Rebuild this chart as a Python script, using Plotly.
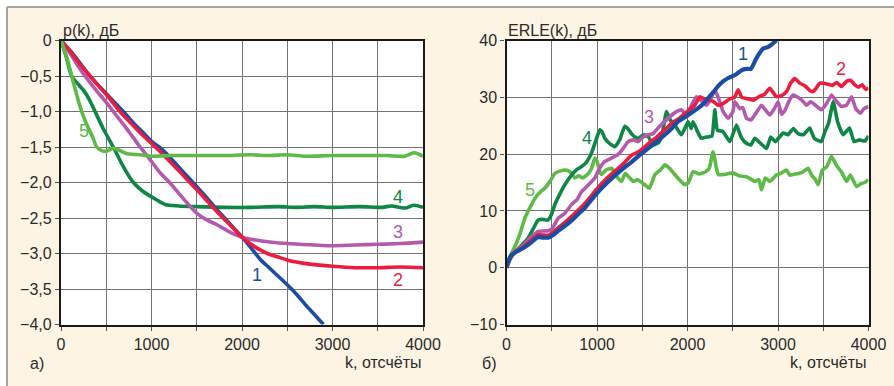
import plotly.graph_objects as go

# ---------------- Data (left panel: p(k), dB) ----------------
k1_a = [0, 100, 200, 320, 500, 688, 800, 900, 1000, 1094, 1200, 1300, 1400, 1500, 1600, 1700, 1800, 1900, 2000,
        2100, 2200, 2300, 2400, 2500, 2600, 2700, 2800, 2900]
p1 = [0, -0.14, -0.3, -0.5, -0.75, -1.0, -1.16, -1.29, -1.42, -1.51, -1.64, -1.78, -1.92, -2.06, -2.2, -2.35, -2.49,
      -2.63, -2.77, -2.92, -3.08, -3.2, -3.32, -3.44, -3.57, -3.72, -3.86, -4.0]

k2_a = [0, 100, 200, 320, 400, 500, 652, 800, 900, 1000, 1100, 1200, 1300, 1400, 1500, 1600, 1700, 1800, 1900, 2000,
        2100, 2200, 2300, 2400, 2500, 2600, 2750, 3000, 3250, 3500, 3750, 4000]
p2 = [0, -0.15, -0.32, -0.5, -0.62, -0.76, -1.0, -1.2, -1.33, -1.45, -1.57, -1.7, -1.83, -1.97, -2.1, -2.24, -2.38,
      -2.51, -2.64, -2.77, -2.87, -2.95, -3.01, -3.05, -3.09, -3.12, -3.15, -3.18, -3.2, -3.2, -3.19, -3.2]

k3_a = [0, 100, 200, 265, 400, 500, 578, 700, 800, 873, 950, 1100, 1200, 1300, 1400, 1500, 1600, 1700, 1800, 1900,
        2000, 2200, 2500, 2800, 3000, 3250, 3500, 3750, 4000]
p3 = [0, -0.18, -0.38, -0.5, -0.72, -0.87, -1.0, -1.2, -1.37, -1.5, -1.62, -1.87, -2.0, -2.15, -2.3, -2.43, -2.52,
      -2.58, -2.65, -2.72, -2.77, -2.82, -2.86, -2.88, -2.89, -2.88, -2.87, -2.86, -2.84]

k4_a = [0, 60, 118, 200, 260, 320, 376, 470, 578, 690, 800, 900, 1050, 1150, 1300, 1500, 1800, 2100, 2400, 2600,
        2800, 3000, 3300, 3550, 3650, 3800, 3900, 4000]
p4 = [0, -0.24, -0.5, -0.63, -0.72, -0.85, -1.0, -1.25, -1.5, -1.78, -2.0, -2.12, -2.24, -2.31, -2.33, -2.34, -2.35,
      -2.35, -2.34, -2.35, -2.34, -2.35, -2.34, -2.35, -2.33, -2.36, -2.32, -2.35]

k5_a = [0, 60, 118, 170, 228, 290, 350, 394, 450, 500, 577, 650, 720, 880, 1000, 1200, 1500, 1800, 2100, 2300, 2500,
        2700, 3000, 3300, 3600, 3800, 3900, 4000]
p5 = [0, -0.22, -0.5, -0.75, -1.0, -1.2, -1.36, -1.5, -1.55, -1.56, -1.52, -1.55, -1.59, -1.61, -1.63, -1.62, -1.62,
      -1.62, -1.61, -1.62, -1.61, -1.63, -1.62, -1.62, -1.62, -1.63, -1.58, -1.63]

# ---------------- Data (right panel: ERLE(k), dB) ----------------
k1_b = [0, 30, 60, 120, 190, 260, 350, 400, 460, 520, 570, 640, 718, 790, 865, 940, 1010, 1100, 1197, 1290, 1381,
        1470, 1565, 1660, 1750, 1830, 1900, 2000, 2090, 2150, 2200, 2250, 2290, 2340, 2393, 2450, 2523, 2600, 2650,
        2700, 2762, 2836, 2880, 2930, 2983]
e1 = [0, 1.5, 2.3, 2.9, 3.5, 4.3, 5.4, 5.3, 5.3, 5.8, 6.5, 7.3, 8.3, 9.4, 10.5, 12.0, 13.3, 14.8, 16.2, 17.5, 18.6,
      19.8, 21.0, 22.2, 23.4, 24.6, 25.8, 26.8, 27.8, 28.5, 29.3, 30.3, 31.0, 32.0, 32.8, 33.4, 33.9, 34.8, 35.0,
      35.0, 36.9, 38.6, 38.8, 39.3, 40.0]

k2_b = [0, 60, 190, 350, 460, 570, 718, 865, 1010, 1100, 1197, 1290, 1381, 1470, 1565, 1660, 1750, 1830, 1907, 2018,
        2080, 2136, 2200, 2283, 2340, 2393, 2467, 2520, 2560, 2600, 2650, 2726, 2800, 2850, 2910, 2983, 3040, 3094,
        3140, 3186, 3240, 3300, 3350, 3388, 3430, 3462, 3530, 3600, 3650, 3700, 3757, 3800, 3850, 3890, 3930, 3970,
        4000]
e2 = [0, 2.3, 3.7, 5.8, 5.7, 7.0, 9.0, 11.3, 14.1, 15.6, 17.0, 18.3, 19.8, 20.5, 21.8, 23.0, 24.3, 25.5, 26.3, 27.8,
      28.6, 30.1, 29.6, 29.3, 28.6, 28.9, 29.7, 30.0, 31.3, 30.0, 29.8, 29.5, 30.2, 30.5, 31.6, 30.1, 30.3, 31.0,
      32.5, 33.3, 32.5, 32.0, 31.2, 31.0, 31.8, 32.5, 32.4, 32.1, 32.6, 31.9, 32.8, 33.0, 32.2, 31.8, 32.2, 31.4,
      31.6]

k3_b = [0, 60, 190, 280, 350, 460, 510, 570, 640, 718, 780, 830, 900, 976, 1030, 1086, 1160, 1233, 1290, 1344, 1400,
        1454, 1510, 1565, 1620, 1675, 1730, 1786, 1860, 1933, 1989, 2043, 2099, 2150, 2210, 2260, 2302, 2350, 2393,
        2449, 2500, 2523, 2580, 2610, 2652, 2700, 2760, 2817, 2860, 2910, 2960, 3001, 3040, 3080, 3120, 3167, 3220,
        3270, 3315, 3360, 3400, 3481, 3540, 3591, 3640, 3700, 3757, 3812, 3860, 3910, 3950, 4000]
e3 = [0, 2.3, 4.0, 5.5, 6.4, 6.5, 7.0, 8.7, 9.5, 11.1, 12.0, 13.4, 14.5, 15.8, 17.5, 18.7, 19.3, 19.9, 21.0, 22.2,
      22.5, 22.2, 23.0, 23.4, 23.6, 24.6, 25.5, 26.3, 27.3, 27.8, 26.9, 28.6, 30.1, 29.4, 28.6, 29.8, 31.3, 29.5,
      27.5, 26.3, 27.4, 29.2, 28.0, 28.2, 26.3, 26.0, 27.3, 28.6, 27.8, 26.9, 28.0, 29.2, 27.0, 27.8, 29.3, 30.4,
      30.0, 29.4, 28.6, 29.2, 28.8, 27.8, 29.0, 30.4, 29.4, 28.4, 28.6, 30.1, 28.0, 27.2, 28.0, 28.4]

k4_b = [0, 40, 100, 170, 239, 300, 350, 400, 460, 500, 534, 590, 644, 718, 780, 829, 880, 939, 990, 1031, 1060, 1086,
        1130, 1197, 1250, 1307, 1340, 1380, 1420, 1454, 1520, 1570, 1620, 1680, 1720, 1768, 1810, 1860, 1933, 1970,
        2007, 2040, 2062, 2110, 2150, 2210, 2270, 2302, 2330, 2390, 2468, 2541, 2580, 2600, 2650, 2700, 2744, 2800,
        2873, 2920, 2970, 3057, 3110, 3170, 3220, 3280, 3351, 3400, 3478, 3520, 3560, 3610, 3660, 3720, 3790, 3840,
        3900, 3960, 4000]
e4 = [0, 1.5, 2.9, 4.0, 5.2, 7.0, 8.4, 8.5, 8.4, 9.5, 11.1, 13.0, 14.6, 16.3, 17.3, 17.8, 18.5, 20.2, 22.5, 24.3,
      23.8, 22.8, 22.0, 21.3, 22.5, 24.9, 24.5, 23.6, 23.0, 22.8, 23.4, 23.0, 21.6, 22.0, 23.5, 27.5, 26.0, 25.1,
      23.4, 24.5, 25.7, 24.5, 25.7, 24.0, 22.8, 23.0, 23.2, 27.8, 24.2, 24.0, 22.2, 25.1, 23.5, 22.8, 21.9, 21.6,
      22.8, 22.0, 21.0, 23.0, 22.2, 23.7, 23.4, 24.5, 23.6, 23.4, 24.6, 22.8, 22.2, 24.0, 25.5, 29.2, 25.6, 23.4,
      24.6, 22.2, 22.5, 22.3, 23.2]

k5_b = [0, 40, 100, 150, 202, 260, 313, 370, 423, 480, 534, 590, 644, 690, 718, 755, 800, 840, 900, 940, 976, 1000,
        1030, 1050, 1100, 1160, 1220, 1271, 1310, 1350, 1400, 1450, 1528, 1580, 1640, 1700, 1750, 1800, 1860, 1910,
        1970, 2010, 2062, 2130, 2200, 2240, 2283, 2320, 2340, 2400, 2500, 2570, 2650, 2700, 2744, 2790, 2817, 2860,
        2910, 2983, 3040, 3094, 3130, 3200, 3270, 3333, 3370, 3410, 3444, 3490, 3540, 3591, 3650, 3700, 3757, 3800,
        3867, 3920, 3960, 4000]
e5 = [0, 2.0, 4.0, 6.0, 8.7, 10.6, 12.2, 13.3, 14.0, 15.2, 16.6, 17.0, 17.2, 17.0, 16.6, 15.8, 16.2, 15.8, 16.5,
      17.5, 19.3, 18.8, 17.0, 16.4, 17.2, 17.5, 16.0, 15.2, 16.6, 16.0, 15.2, 15.5, 14.6, 14.0, 16.4, 17.2, 18.1,
      17.5, 16.4, 15.5, 14.6, 15.0, 16.9, 16.5, 16.9, 17.5, 20.4, 17.5, 16.4, 16.4, 16.7, 16.2, 16.0, 15.6, 15.2,
      15.5, 13.7, 15.8, 15.2, 16.3, 16.7, 17.2, 16.3, 16.5, 16.8, 17.5, 16.3, 15.6, 14.6, 17.2, 17.8, 19.6, 17.9,
      16.9, 15.2, 16.3, 14.3, 14.8, 15.0, 15.5]

# ticks
x_tickvals = [0, 500, 1000, 1500, 2000, 2500, 3000, 3500, 4000]
x_ticktext = ['0', '', '1000', '', '2000', '', '3000', '', '4000']
ya_tickvals = [0, -0.5, -1.0, -1.5, -2.0, -2.5, -3.0, -3.5, -4.0]
ya_ticktext = ['0', '\u22120,5', '\u22121,0', '\u22121,5', '\u22122,0', '\u22122,5', '\u22123,0', '\u22123,5', '\u22124,0']
yb_tickvals = [40, 30, 20, 10, 0, -10]
yb_ticktext = ['40', '30', '20', '10', '0', '\u221210']

# curve labels (text, x, y) in data coordinates
labels_a = [('1', 2166, -3.30), ('2', 3724, -3.37), ('3', 3724, -2.70), ('4', 3724, -2.20), ('5', 254, -1.28)]
labels_b = [('1', 2611, 37.7), ('2', 3694, 34.9), ('3', 1572, 26.6), ('4', 887, 22.8), ('5', 258, 13.7)]

# ---------------- Styling ----------------
W, H = 894, 386
C1, C2, C3, C4, C5 = '#1B4EA2', '#EC1C3F', '#B35AAE', '#0E8644', '#5DBA47'
colors = {'1': C1, '2': C2, '3': C3, '4': C4, '5': C5}
FONT = 'Liberation Sans, Arial, Helvetica, sans-serif'
TXT = '#2b2b2b'
CREAM = '#FDF4E3'

def px(x):
    return x / W

def py(y):
    return 1 - y / H

fig = go.Figure()

left = [(k4_a, p4, C4), (k3_a, p3, C3), (k1_a, p1, C1), (k2_a, p2, C2), (k5_a, p5, C5)]
for kx, vy, c in left:
    fig.add_trace(go.Scatter(x=kx, y=vy, mode='lines', xaxis='x', yaxis='y',
                             line=dict(color=c, width=3.6, shape='spline', smoothing=0.8),
                             showlegend=False, hoverinfo='skip'))

right = [(k5_b, e5, C5, 3.6), (k4_b, e4, C4, 3.6), (k3_b, e3, C3, 3.6), (k2_b, e2, C2, 3.6), (k1_b, e1, C1, 4.2)]
for kx, vy, c, w in right:
    fig.add_trace(go.Scatter(x=kx, y=vy, mode='lines', xaxis='x2', yaxis='y2',
                             line=dict(color=c, width=w, shape='spline', smoothing=0.4),
                             showlegend=False, hoverinfo='skip'))

axis_common = dict(showline=True, linecolor='#1a1a1a', linewidth=2.3, mirror=True, automargin=False,
                   showgrid=True, gridcolor='#737373', gridwidth=1.4, zeroline=False,
                   ticks='outside', ticklen=4, tickwidth=1.3, tickcolor='#555',
                   tickfont=dict(family=FONT, size=16, color=TXT), fixedrange=True)

yd = [py(324.5), py(40.5)]
fig.update_layout(
    width=W, height=H, autosize=False,
    margin=dict(l=0, r=0, t=0, b=0, pad=0),
    paper_bgcolor=CREAM, plot_bgcolor='white',
    xaxis=dict(domain=[px(61), px(423)], range=[0, 4000], tickvals=x_tickvals, ticktext=x_ticktext,
               anchor='y', **axis_common),
    yaxis=dict(domain=yd, range=[-4, 0], tickvals=ya_tickvals, ticktext=ya_ticktext, anchor='x', **axis_common),
    xaxis2=dict(domain=[px(506.5), px(868.5)], range=[0, 4000], tickvals=x_tickvals, ticktext=x_ticktext,
                anchor='y2', **axis_common),
    yaxis2=dict(domain=yd, range=[-10, 40], tickvals=yb_tickvals, ticktext=yb_ticktext, anchor='x2',
                **axis_common),
)

# outer frame: white strips top/left + gray border lines
shapes = [
    dict(type='rect', xref='paper', yref='paper', x0=0, x1=1, y0=py(7), y1=1,
         fillcolor='white', line=dict(width=0), layer='below'),
    dict(type='rect', xref='paper', yref='paper', x0=0, x1=px(7), y0=0, y1=1,
         fillcolor='white', line=dict(width=0), layer='below'),
    dict(type='line', xref='paper', yref='paper', x0=px(7), x1=1, y0=py(7), y1=py(7),
         line=dict(color='#A3A3A3', width=2), layer='below'),
    dict(type='line', xref='paper', yref='paper', x0=px(7), x1=px(7), y0=0, y1=py(7),
         line=dict(color='#A3A3A3', width=2), layer='below'),
]
fig.update_layout(shapes=shapes)

ann = []
for t, x, y in labels_a:
    ann.append(dict(text=t, x=x, y=y, xref='x', yref='y', showarrow=False,
                    font=dict(family=FONT, size=18, color=colors[t])))
for t, x, y in labels_b:
    ann.append(dict(text=t, x=x, y=y, xref='x2', yref='y2', showarrow=False,
                    font=dict(family=FONT, size=18, color=colors[t])))

def txt(t, x, y, xanchor='left'):
    ann.append(dict(text=t, x=px(x), y=py(y), xref='paper', yref='paper', showarrow=False,
                    xanchor=xanchor, yanchor='middle', font=dict(family=FONT, size=16, color=TXT)))

txt('p(k), дБ', 61, 31)
txt('ERLE(k), дБ', 506, 31)
txt('k, отсчёты', 423, 362, 'right')
txt('k, отсчёты', 868, 362, 'right')
txt('а)', 28, 363)
txt('б)', 480, 363)
fig.update_layout(annotations=ann)

fig.write_html('out.html')
